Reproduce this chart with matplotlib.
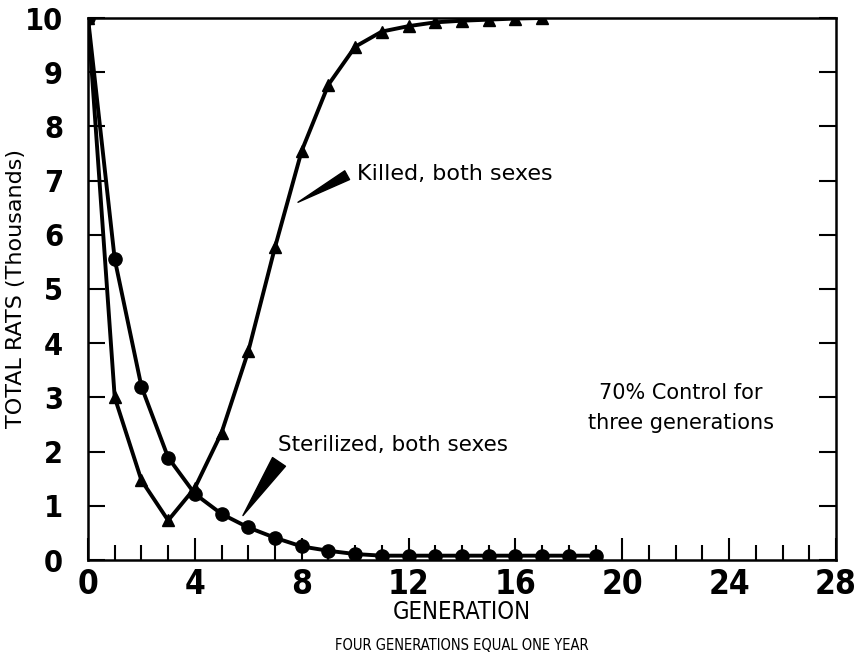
import matplotlib
matplotlib.use("Agg")
import matplotlib.pyplot as plt
from matplotlib.ticker import MultipleLocator

gen_killed = list(range(0, 18))
killed = [10.0, 3.0, 1.47, 0.73, 1.33, 2.35, 3.85, 5.77, 7.55, 8.77, 9.47,
          9.75, 9.85, 9.92, 9.95, 9.97, 9.99, 10.0]
gen_steril = list(range(0, 20))
sterilized = [10.0, 5.55, 3.2, 1.89, 1.22, 0.85, 0.6, 0.41, 0.25, 0.17, 0.11,
              0.08, 0.08, 0.08, 0.08, 0.08, 0.08, 0.08, 0.08, 0.08]

x_ticks = [0, 4, 8, 12, 16, 20, 24, 28]
y_ticks = list(range(0, 11))

plt.rcParams["font.family"] = ["DejaVu Sans"]
plt.rcParams["font.stretch"] = "condensed"

fig = plt.figure(figsize=(8.63, 6.6), dpi=100)
ax = fig.add_axes([88/863, 100/660, (836-88)/863, (560-18)/660])

ax.plot(gen_killed, killed, color="black", lw=2.8, marker="^", ms=8,
        solid_joinstyle="round", zorder=3)
ax.plot(gen_steril, sterilized, color="black", lw=2.8, marker="o", ms=9.5,
        solid_joinstyle="round", zorder=3)

ax.set_xlim(0, 28)
ax.set_ylim(0, 10)
ax.set_xticks(x_ticks)
ax.set_yticks(y_ticks)
ax.xaxis.set_minor_locator(MultipleLocator(1))
ax.tick_params(axis="x", which="major", direction="in", length=16, width=1.5,
               labelsize=24, pad=6)
ax.tick_params(axis="x", which="minor", direction="in", length=11, width=1.5)
ax.tick_params(axis="y", which="major", direction="in", length=12, width=1.5,
               labelsize=22, pad=18, right=True)
for lab in ax.get_xticklabels() + ax.get_yticklabels():
    lab.set_fontweight("bold")
for s in ax.spines.values():
    s.set_linewidth(1.8)

ax.set_xlabel("GENERATION", fontsize=17, labelpad=-1)
ax.set_ylabel("TOTAL RATS (Thousands)", fontsize=16, fontstretch="normal")
ax.yaxis.set_label_coords(-62/748, 0.5)
fig.text((88+836)/2/863, 1-646/660, "FOUR GENERATIONS EQUAL ONE YEAR",
         ha="center", va="center", fontsize=10.5)

ax.text(10.08, 7.12, "Killed, both sexes", fontsize=16, ha="left",
        va="center", fontstretch="normal")
ax.annotate("", xy=(7.86, 6.6), xytext=(9.7, 7.1),
            arrowprops=dict(arrowstyle="wedge,tail_width=0.45,shrink_factor=0.5",
                            color="black", shrinkA=0, shrinkB=0, mutation_scale=16))
ax.text(7.11, 2.12, "Sterilized, both sexes", fontsize=15.5, ha="left",
        va="center", fontstretch="normal")
ax.annotate("", xy=(5.8, 0.82), xytext=(7.15, 1.81),
            arrowprops=dict(arrowstyle="wedge,tail_width=0.7,shrink_factor=0.5",
                            color="black", shrinkA=0, shrinkB=0, mutation_scale=16))
ax.text(22.2, 2.8, "70% Control for\nthree generations", fontsize=15,
        ha="center", va="center", linespacing=1.65, fontstretch="normal")

fig.savefig("out.png", dpi=100)
